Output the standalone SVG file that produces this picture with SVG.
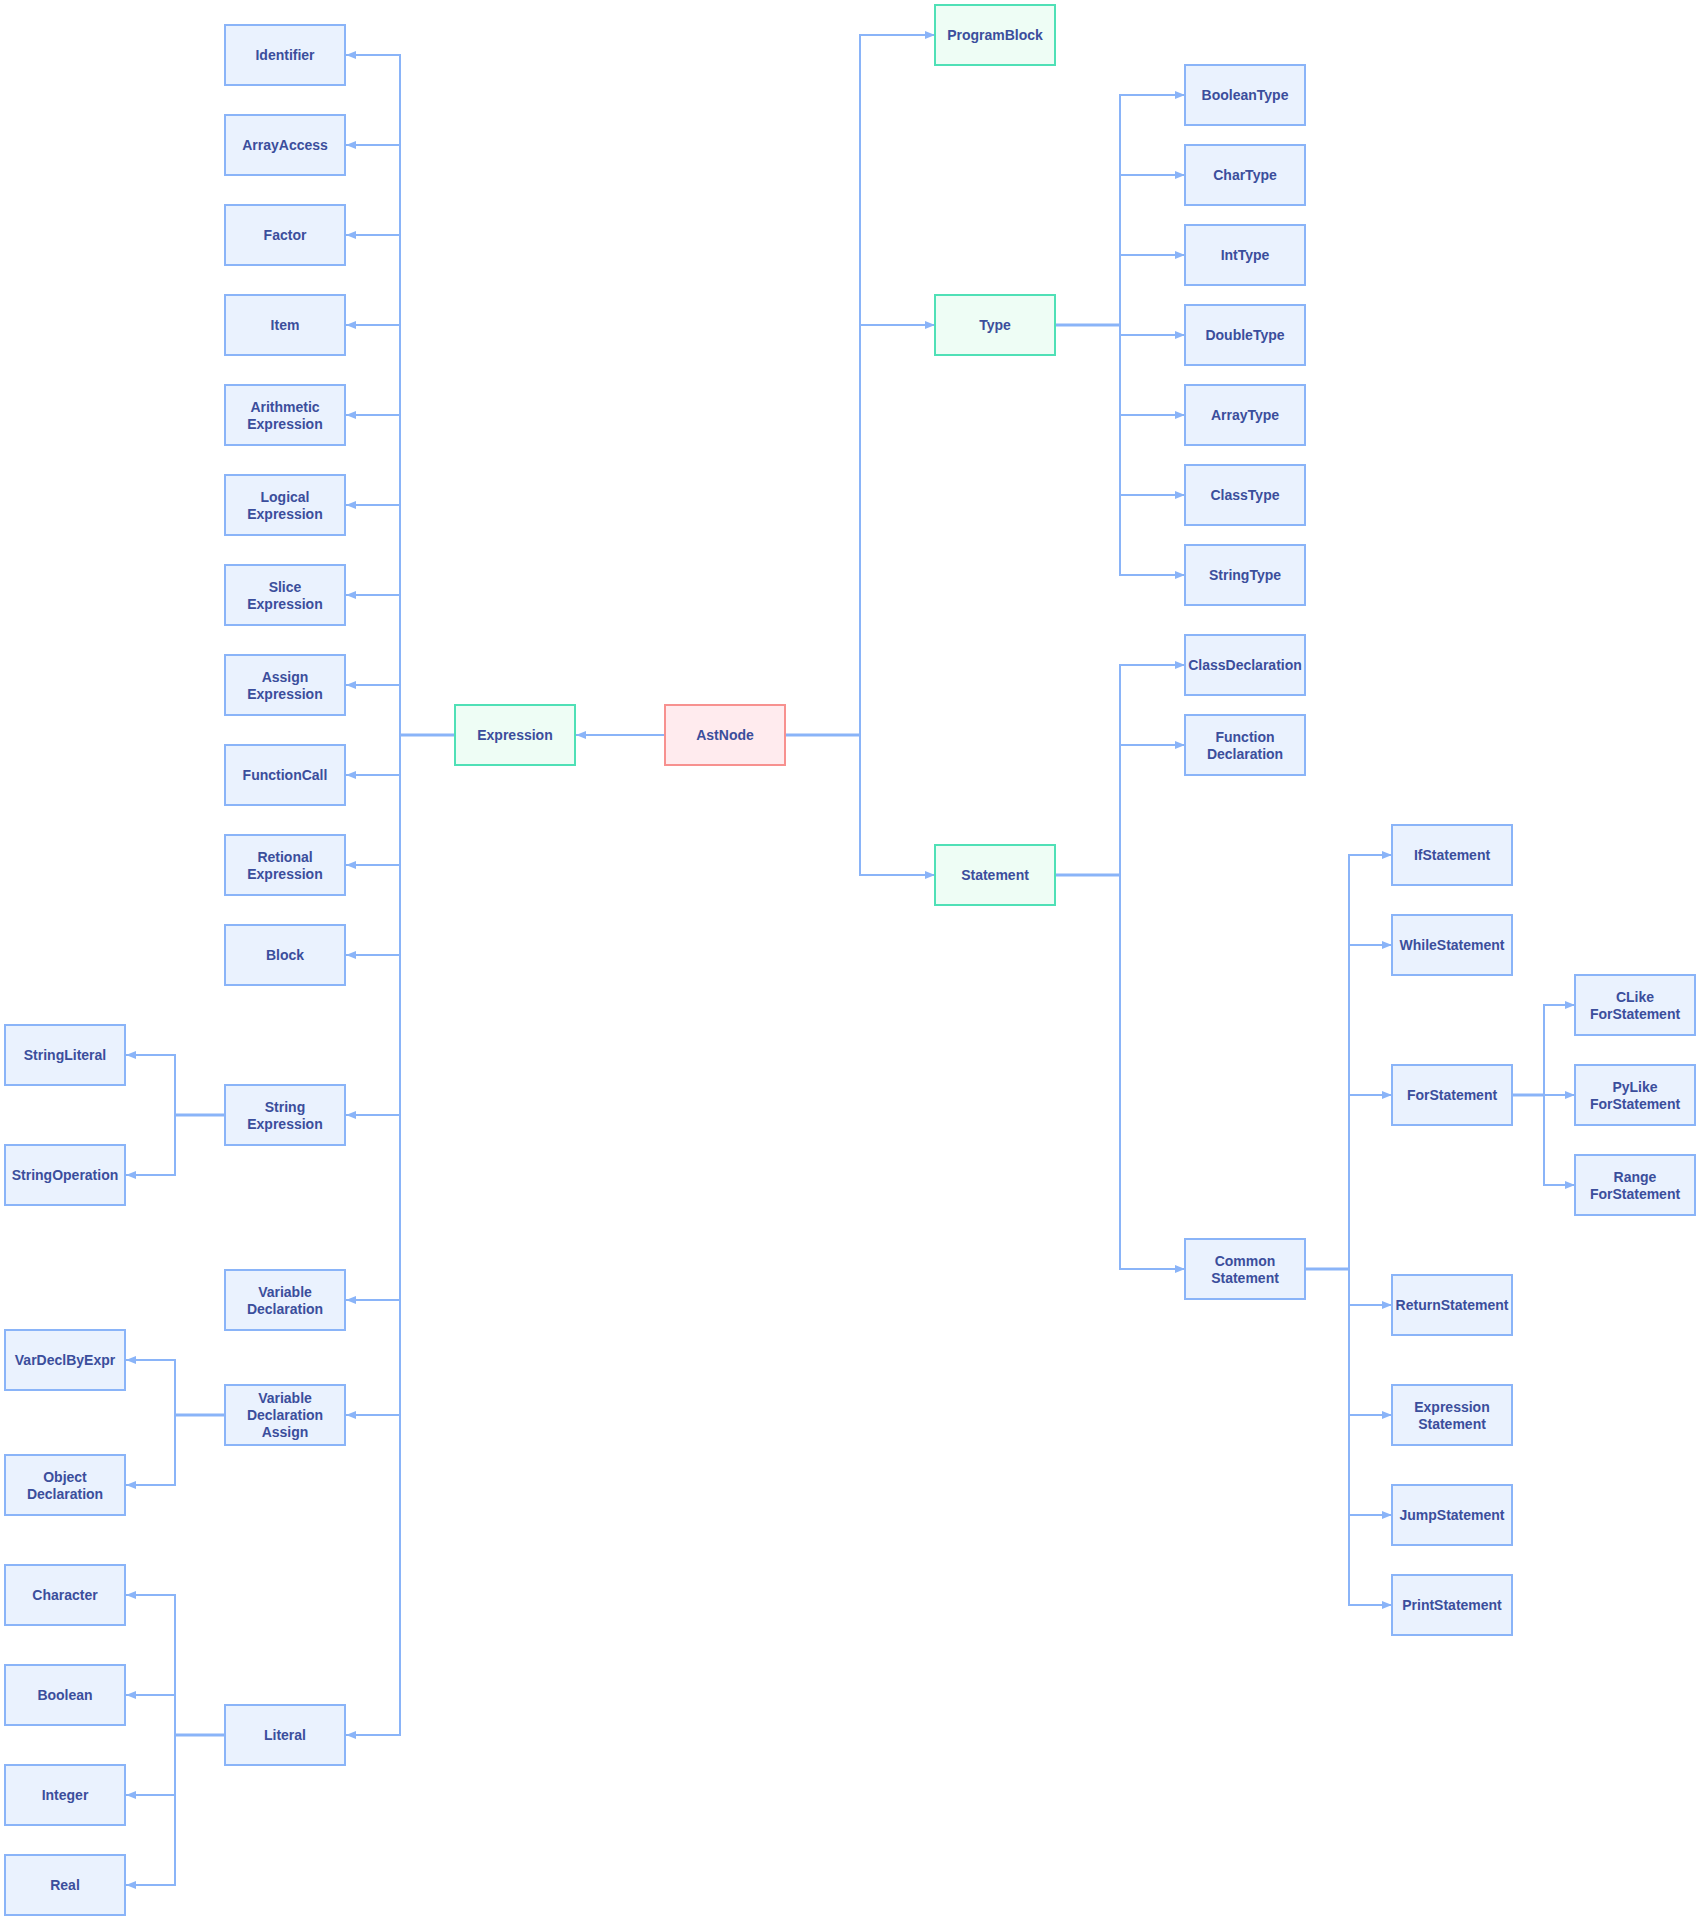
<svg xmlns="http://www.w3.org/2000/svg" width="1700" height="1920" viewBox="0 0 1700 1920">
<style>
.n rect{fill:#eaf2fe;stroke:#8ab4f8;stroke-width:2}
.g rect{fill:#eefdf5;stroke:#4fe0b6;stroke-width:2}
.r rect{fill:#ffebee;stroke:#f7918f;stroke-width:2}
text{font-family:"Liberation Sans",Arial,sans-serif;font-size:14px;font-weight:bold;fill:#3b4e9c;text-anchor:middle;dominant-baseline:central}
.e path{fill:none;stroke:#8ab4f8;stroke-width:2;marker-end:url(#ah)}
.e path.s{stroke-width:3;marker-end:none}
</style>
<defs>
<marker id="ah" markerWidth="10" markerHeight="8" refX="10" refY="4" orient="auto" markerUnits="userSpaceOnUse"><path d="M0,0 L10,4 L0,8 z" fill="#8ab4f8"/></marker>
</defs>
<rect width="1700" height="1920" fill="#ffffff"/>
<g class="e" id="connectors">
<path d="M455,735 H400 V55 H346"/>
<path d="M455,735 H400 V145 H346"/>
<path d="M455,735 H400 V235 H346"/>
<path d="M455,735 H400 V325 H346"/>
<path d="M455,735 H400 V415 H346"/>
<path d="M455,735 H400 V505 H346"/>
<path d="M455,735 H400 V595 H346"/>
<path d="M455,735 H400 V685 H346"/>
<path d="M455,735 H400 V775 H346"/>
<path d="M455,735 H400 V865 H346"/>
<path d="M455,735 H400 V955 H346"/>
<path d="M455,735 H400 V1115 H346"/>
<path d="M455,735 H400 V1300 H346"/>
<path d="M455,735 H400 V1415 H346"/>
<path d="M455,735 H400 V1735 H346"/>
<path class="s" d="M455,735 H400"/>
<path d="M225,1115 H175 V1055 H126"/>
<path d="M225,1115 H175 V1175 H126"/>
<path class="s" d="M225,1115 H175"/>
<path d="M225,1415 H175 V1360 H126"/>
<path d="M225,1415 H175 V1485 H126"/>
<path class="s" d="M225,1415 H175"/>
<path d="M225,1735 H175 V1595 H126"/>
<path d="M225,1735 H175 V1695 H126"/>
<path d="M225,1735 H175 V1795 H126"/>
<path d="M225,1735 H175 V1885 H126"/>
<path class="s" d="M225,1735 H175"/>
<path d="M665,735 H576"/>
<path d="M785,735 H860 V35 H935"/>
<path d="M785,735 H860 V325 H935"/>
<path d="M785,735 H860 V875 H935"/>
<path class="s" d="M785,735 H860"/>
<path d="M1056,325 H1120 V95 H1185"/>
<path d="M1056,325 H1120 V175 H1185"/>
<path d="M1056,325 H1120 V255 H1185"/>
<path d="M1056,325 H1120 V335 H1185"/>
<path d="M1056,325 H1120 V415 H1185"/>
<path d="M1056,325 H1120 V495 H1185"/>
<path d="M1056,325 H1120 V575 H1185"/>
<path class="s" d="M1056,325 H1120"/>
<path d="M1056,875 H1120 V665 H1185"/>
<path d="M1056,875 H1120 V745 H1185"/>
<path d="M1056,875 H1120 V1269 H1185"/>
<path class="s" d="M1056,875 H1120"/>
<path d="M1305,1269 H1349 V855 H1392"/>
<path d="M1305,1269 H1349 V945 H1392"/>
<path d="M1305,1269 H1349 V1095 H1392"/>
<path d="M1305,1269 H1349 V1305 H1392"/>
<path d="M1305,1269 H1349 V1415 H1392"/>
<path d="M1305,1269 H1349 V1515 H1392"/>
<path d="M1305,1269 H1349 V1605 H1392"/>
<path class="s" d="M1305,1269 H1349"/>
<path d="M1512,1095 H1544 V1005 H1575"/>
<path d="M1512,1095 H1544 V1095 H1575"/>
<path d="M1512,1095 H1544 V1185 H1575"/>
<path class="s" d="M1512,1095 H1544"/>
</g>

<g id="AstNode" class="r"><rect x="665" y="705" width="120" height="60"/><text x="725" y="735">AstNode</text></g>
<g id="Expression" class="g"><rect x="455" y="705" width="120" height="60"/><text x="515" y="735">Expression</text></g>
<g id="ProgramBlock" class="g"><rect x="935" y="5" width="120" height="60"/><text x="995" y="35">ProgramBlock</text></g>
<g id="Type" class="g"><rect x="935" y="295" width="120" height="60"/><text x="995" y="325">Type</text></g>
<g id="Statement" class="g"><rect x="935" y="845" width="120" height="60"/><text x="995" y="875">Statement</text></g>

<g id="Identifier" class="n"><rect x="225" y="25" width="120" height="60"/><text x="285" y="55">Identifier</text></g>
<g id="ArrayAccess" class="n"><rect x="225" y="115" width="120" height="60"/><text x="285" y="145">ArrayAccess</text></g>
<g id="Factor" class="n"><rect x="225" y="205" width="120" height="60"/><text x="285" y="235">Factor</text></g>
<g id="Item" class="n"><rect x="225" y="295" width="120" height="60"/><text x="285" y="325">Item</text></g>
<g id="ArithmeticExpression" class="n"><rect x="225" y="385" width="120" height="60"/><text x="285" y="406.5">Arithmetic</text><text x="285" y="423.5">Expression</text></g>
<g id="LogicalExpression" class="n"><rect x="225" y="475" width="120" height="60"/><text x="285" y="496.5">Logical</text><text x="285" y="513.5">Expression</text></g>
<g id="SliceExpression" class="n"><rect x="225" y="565" width="120" height="60"/><text x="285" y="586.5">Slice</text><text x="285" y="603.5">Expression</text></g>
<g id="AssignExpression" class="n"><rect x="225" y="655" width="120" height="60"/><text x="285" y="676.5">Assign</text><text x="285" y="693.5">Expression</text></g>
<g id="FunctionCall" class="n"><rect x="225" y="745" width="120" height="60"/><text x="285" y="775">FunctionCall</text></g>
<g id="RetionalExpression" class="n"><rect x="225" y="835" width="120" height="60"/><text x="285" y="856.5">Retional</text><text x="285" y="873.5">Expression</text></g>
<g id="Block" class="n"><rect x="225" y="925" width="120" height="60"/><text x="285" y="955">Block</text></g>
<g id="StringExpression" class="n"><rect x="225" y="1085" width="120" height="60"/><text x="285" y="1106.5">String</text><text x="285" y="1123.5">Expression</text></g>
<g id="VariableDeclaration" class="n"><rect x="225" y="1270" width="120" height="60"/><text x="285" y="1291.5">Variable</text><text x="285" y="1308.5">Declaration</text></g>
<g id="VariableDeclarationAssign" class="n"><rect x="225" y="1385" width="120" height="60"/><text x="285" y="1398">Variable</text><text x="285" y="1415">Declaration</text><text x="285" y="1432">Assign</text></g>
<g id="Literal" class="n"><rect x="225" y="1705" width="120" height="60"/><text x="285" y="1735">Literal</text></g>

<g id="StringLiteral" class="n"><rect x="5" y="1025" width="120" height="60"/><text x="65" y="1055">StringLiteral</text></g>
<g id="StringOperation" class="n"><rect x="5" y="1145" width="120" height="60"/><text x="65" y="1175">StringOperation</text></g>
<g id="VarDeclByExpr" class="n"><rect x="5" y="1330" width="120" height="60"/><text x="65" y="1360">VarDeclByExpr</text></g>
<g id="ObjectDeclaration" class="n"><rect x="5" y="1455" width="120" height="60"/><text x="65" y="1476.5">Object</text><text x="65" y="1493.5">Declaration</text></g>
<g id="Character" class="n"><rect x="5" y="1565" width="120" height="60"/><text x="65" y="1595">Character</text></g>
<g id="Boolean" class="n"><rect x="5" y="1665" width="120" height="60"/><text x="65" y="1695">Boolean</text></g>
<g id="Integer" class="n"><rect x="5" y="1765" width="120" height="60"/><text x="65" y="1795">Integer</text></g>
<g id="Real" class="n"><rect x="5" y="1855" width="120" height="60"/><text x="65" y="1885">Real</text></g>

<g id="BooleanType" class="n"><rect x="1185" y="65" width="120" height="60"/><text x="1245" y="95">BooleanType</text></g>
<g id="CharType" class="n"><rect x="1185" y="145" width="120" height="60"/><text x="1245" y="175">CharType</text></g>
<g id="IntType" class="n"><rect x="1185" y="225" width="120" height="60"/><text x="1245" y="255">IntType</text></g>
<g id="DoubleType" class="n"><rect x="1185" y="305" width="120" height="60"/><text x="1245" y="335">DoubleType</text></g>
<g id="ArrayType" class="n"><rect x="1185" y="385" width="120" height="60"/><text x="1245" y="415">ArrayType</text></g>
<g id="ClassType" class="n"><rect x="1185" y="465" width="120" height="60"/><text x="1245" y="495">ClassType</text></g>
<g id="StringType" class="n"><rect x="1185" y="545" width="120" height="60"/><text x="1245" y="575">StringType</text></g>

<g id="ClassDeclaration" class="n"><rect x="1185" y="635" width="120" height="60"/><text x="1245" y="665">ClassDeclaration</text></g>
<g id="FunctionDeclaration" class="n"><rect x="1185" y="715" width="120" height="60"/><text x="1245" y="736.5">Function</text><text x="1245" y="753.5">Declaration</text></g>
<g id="CommonStatement" class="n"><rect x="1185" y="1239" width="120" height="60"/><text x="1245" y="1260.5">Common</text><text x="1245" y="1277.5">Statement</text></g>

<g id="IfStatement" class="n"><rect x="1392" y="825" width="120" height="60"/><text x="1452" y="855">IfStatement</text></g>
<g id="WhileStatement" class="n"><rect x="1392" y="915" width="120" height="60"/><text x="1452" y="945">WhileStatement</text></g>
<g id="ForStatement" class="n"><rect x="1392" y="1065" width="120" height="60"/><text x="1452" y="1095">ForStatement</text></g>
<g id="ReturnStatement" class="n"><rect x="1392" y="1275" width="120" height="60"/><text x="1452" y="1305">ReturnStatement</text></g>
<g id="ExpressionStatement" class="n"><rect x="1392" y="1385" width="120" height="60"/><text x="1452" y="1406.5">Expression</text><text x="1452" y="1423.5">Statement</text></g>
<g id="JumpStatement" class="n"><rect x="1392" y="1485" width="120" height="60"/><text x="1452" y="1515">JumpStatement</text></g>
<g id="PrintStatement" class="n"><rect x="1392" y="1575" width="120" height="60"/><text x="1452" y="1605">PrintStatement</text></g>

<g id="CLikeForStatement" class="n"><rect x="1575" y="975" width="120" height="60"/><text x="1635" y="996.5">CLike</text><text x="1635" y="1013.5">ForStatement</text></g>
<g id="PyLikeForStatement" class="n"><rect x="1575" y="1065" width="120" height="60"/><text x="1635" y="1086.5">PyLike</text><text x="1635" y="1103.5">ForStatement</text></g>
<g id="RangeForStatement" class="n"><rect x="1575" y="1155" width="120" height="60"/><text x="1635" y="1176.5">Range</text><text x="1635" y="1193.5">ForStatement</text></g>
</svg>
